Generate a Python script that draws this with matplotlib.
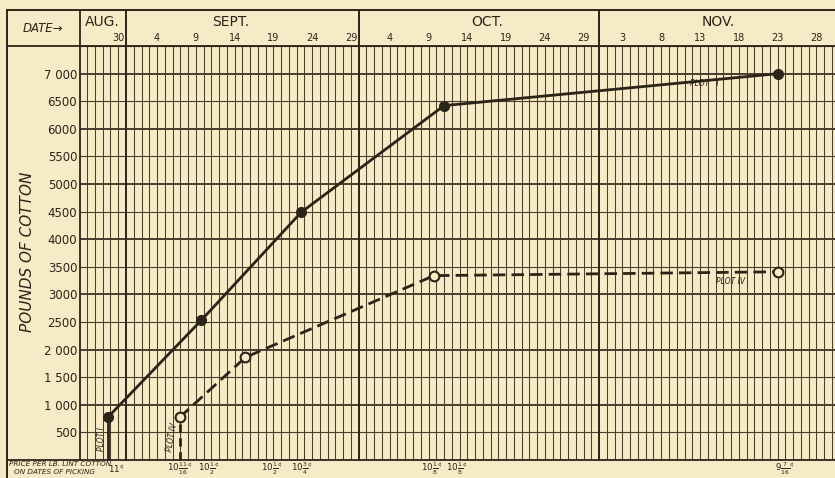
import matplotlib
matplotlib.use('Agg')
import matplotlib.pyplot as plt
import matplotlib.transforms as mtransforms
from matplotlib.lines import Line2D

# Day index: Aug 31 = 0, Sept d = d, Oct d = 30 + d, Nov d = 61 + d
plot1_days = [-2.3, 9.7, 22.6, 41.0, 84.1]
plot1_lbs = [780, 2530, 4490, 6420, 7000]
plot4_days = [6.9, 15.4, 39.7, 84.1]
plot4_lbs = [770, 1860, 3340, 3410]

price_days = [-1.3, 6.9, 10.6, 18.8, 22.7, 39.4, 42.6, 84.9]
price_labels = [r"$11^{¢}$", r"$10\frac{11}{16}^{¢}$", r"$10\frac{1}{2}^{¢}$", r"$10\frac{1}{2}^{¢}$",
                r"$10\frac{3}{4}^{¢}$", r"$10\frac{1}{8}^{¢}$", r"$10\frac{1}{8}^{¢}$", r"$9\frac{7}{16}^{¢}$"]

month_names = ["AUG.", "SEPT.", "OCT.", "NOV."]
month_label_days = [-3.0, 13.5, 46.5, 76.3]
month_bounds = [0, 30, 61]
day_ticks = [-1, 4, 9, 14, 19, 24, 29, 34, 39, 44, 49, 54, 59, 64, 69, 74, 79, 84, 89]
day_tick_labels = ["30", "4", "9", "14", "19", "24", "29", "4", "9", "14", "19", "24", "29",
                   "3", "8", "13", "18", "23", "28"]

y_ticks = [500, 1000, 1500, 2000, 2500, 3000, 3500, 4000, 4500, 5000, 5500, 6000, 6500, 7000]
y_tick_labels = ["500", "1 000", "1 500", "2 000", "2500", "3000", "3500", "4000", "4500",
                 "5000", "5500", "6000", "6500", "7 000"]

BG = "#f7eac6"
INK = "#2b2418"
GRID = "#4a3f2c"

W, H = 835, 478
fig = plt.figure(figsize=(W / 100, H / 100), dpi=100, facecolor=BG)

def fx(px):
    return px / W

def fy(py):
    return 1 - py / H

ax = fig.add_axes([fx(80), fy(460), fx(835) - fx(80), fy(46) - fy(460)])
ax.set_facecolor(BG)
ax.set_xlim(-5.93, 91.4)
ax.set_ylim(0, 7500)

# grid
for d in range(-5, 92):
    if d in month_bounds:
        continue
    ax.axvline(d, color=GRID, lw=0.75, zorder=1)
for v in range(500, 7501, 500):
    ax.axhline(v, color=GRID, lw=1.4 if v % 1000 == 0 else 0.8, zorder=1)

for s in ["right"]:
    ax.spines[s].set_visible(False)
for s in ["left", "top", "bottom"]:
    ax.spines[s].set_color(INK)
    ax.spines[s].set_linewidth(1.3)

ax.set_xticks([])
ax.set_yticks(y_ticks, y_tick_labels)
ax.tick_params(axis="y", length=0, pad=2, labelsize=8.5, labelcolor=INK)

blend = mtransforms.blended_transform_factory(ax.transData, fig.transFigure)

# month boundaries extending into header
for b in month_bounds:
    fig.add_artist(Line2D([b, b], [fy(460), fy(10)], transform=blend, color=INK, lw=1.4, zorder=3))

# header and frame lines
fig.add_artist(Line2D([fx(7), fx(835)], [fy(10), fy(10)], transform=fig.transFigure, color=INK, lw=1.4))
fig.add_artist(Line2D([fx(7), fx(80)], [fy(46), fy(46)], transform=fig.transFigure, color=INK, lw=1.3))
fig.add_artist(Line2D([fx(7), fx(7)], [fy(10), fy(478)], transform=fig.transFigure, color=INK, lw=1.4))
fig.add_artist(Line2D([fx(80), fx(80)], [fy(10), fy(46)], transform=fig.transFigure, color=INK, lw=1.3))
fig.add_artist(Line2D([fx(7), fx(80)], [fy(460), fy(460)], transform=fig.transFigure, color=INK, lw=1.3))

fig.text(fx(43), fy(28), "DATE\u2192", ha="center", va="center", fontsize=8.5, style="italic", color=INK)

for name, d in zip(month_names, month_label_days):
    fig.text(d, fy(22), name, transform=blend, ha="center", va="center", fontsize=10, color=INK)
for d, lab in zip(day_ticks, day_tick_labels):
    fig.text(d, fy(38), lab, transform=blend, ha="center", va="center", fontsize=7, color=INK)

# y label
fig.text(fx(28), fy(252), "POUNDS OF COTTON", rotation=90, ha="center", va="center",
         fontsize=11, style="italic", color=INK)

# price row
fig.text(fx(9), fy(464), "PRICE PER LB. LINT COTTON", ha="left", va="center", fontsize=5.2,
         style="italic", color=INK)
fig.text(fx(14), fy(472.5), "ON DATES OF PICKING", ha="left", va="center", fontsize=5.2,
         style="italic", color=INK)
for d, lab in zip(price_days, price_labels):
    fig.text(d, fy(469), lab, transform=blend, ha="center", va="center", fontsize=6.3, color=INK)

# data
ax.plot(plot1_days, plot1_lbs, color=INK, lw=2, marker="o", ms=7, mfc=INK, mec=INK, zorder=5)
ax.plot(plot4_days, plot4_lbs, color=INK, lw=2, ls=(0, (4.5, 2.2)), marker="o", ms=7,
        mfc=BG, mec=INK, mew=1.5, zorder=5)
ax.plot([plot1_days[0], plot1_days[0]], [0, plot1_lbs[0]], color=INK, lw=2, zorder=4)
ax.plot([plot4_days[0], plot4_days[0]], [0, plot4_lbs[0]], color=INK, lw=2, ls=(0, (3, 2)), zorder=4)

# plot labels
ax.text(plot1_days[0] - 0.8, 380, "PLOT I", rotation=90, ha="center", va="center", fontsize=5.5,
        style="italic", color=INK, zorder=6)
ax.text(plot4_days[0] - 1.0, 420, "PLOT IV", rotation=80, ha="center", va="center", fontsize=5.5,
        style="italic", color=INK, zorder=6)
ax.text(74.5, 6820, "PLOT   I", ha="center", va="center", fontsize=5.5, style="italic", color=INK, zorder=6)
ax.text(78.0, 3230, "PLOT IV", ha="center", va="center", fontsize=5.5, style="italic", color=INK, zorder=6)

fig.savefig("out.png", dpi=100, facecolor=BG)
